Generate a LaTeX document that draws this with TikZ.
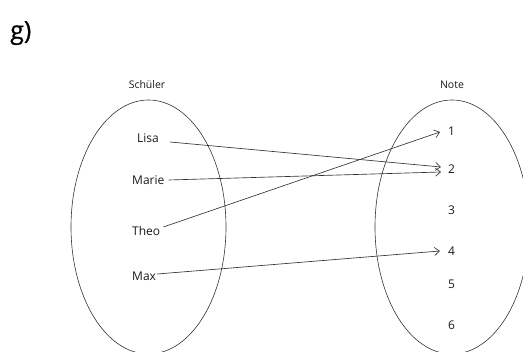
\documentclass[tikz,border=0pt]{standalone}
\usepackage{fontspec}
\setmainfont{Open Sans}
\newfontfamily\hfont[FakeBold=0.6]{Open Sans}
\usetikzlibrary{arrows.meta,shapes.geometric}
\definecolor{txt}{HTML}{1A1A1A}
\definecolor{ln}{HTML}{333333}
\begin{document}
\begin{tikzpicture}[x=1pt,y=-1pt,
  setbox/.style={draw=ln, line width=0.6pt, ellipse, inner sep=0pt},
  lbl/.style={text=txt, font=\fontsize{10.5}{12}\selectfont, inner sep=0pt},
  elem/.style={text=txt, font=\fontsize{12}{14}\selectfont, inner sep=0pt, anchor=west},
  conn/.style={draw=ln, line width=0.65pt, -{Straight Barb[length=5pt,width=8pt]}}]
\useasboundingbox (0,0) rectangle (523,352);
\clip (0,0) rectangle (523,352);
\node[text=black, font=\hfont\fontsize{25}{30}\selectfont, inner sep=0pt, anchor=base west] (g) at (10,39) {g)};
\node[setbox, minimum width=155pt, minimum height=254pt] (S) at (148.5,227) {};
\node[setbox, minimum width=154pt, minimum height=254pt] (N) at (452,227) {};
\node[lbl] (ts) at (147,85) {Schüler};
\node[lbl] (tn) at (452,85) {Note};
\node[elem] (lisa) at (137,138) {Lisa};
\node[elem] (marie) at (132,180) {Marie};
\node[elem] (theo) at (132,231) {Theo};
\node[elem] (max) at (132,276) {Max};
\node[elem] (n1) at (448,131) {1};
\node[elem] (n2) at (448,169) {2};
\node[elem] (n3) at (448,210) {3};
\node[elem] (n4) at (448,251) {4};
\node[elem] (n5) at (448,284) {5};
\node[elem] (n6) at (448,325) {6};
\draw[conn] ([xshift=11pt,yshift=-4pt]lisa.east) -- ([xshift=-7pt,yshift=2pt]n2.west);
\draw[conn] ([xshift=4pt]marie.east) -- ([xshift=-7pt,yshift=-3pt]n2.west);
\draw[conn] ([xshift=3pt,yshift=4pt]theo.east) -- ([xshift=-8pt,yshift=-1pt]n1.west);
\draw[conn] ([xshift=1pt,yshift=2pt]max.east) -- ([xshift=-8pt]n4.west);
\end{tikzpicture}
\end{document}
